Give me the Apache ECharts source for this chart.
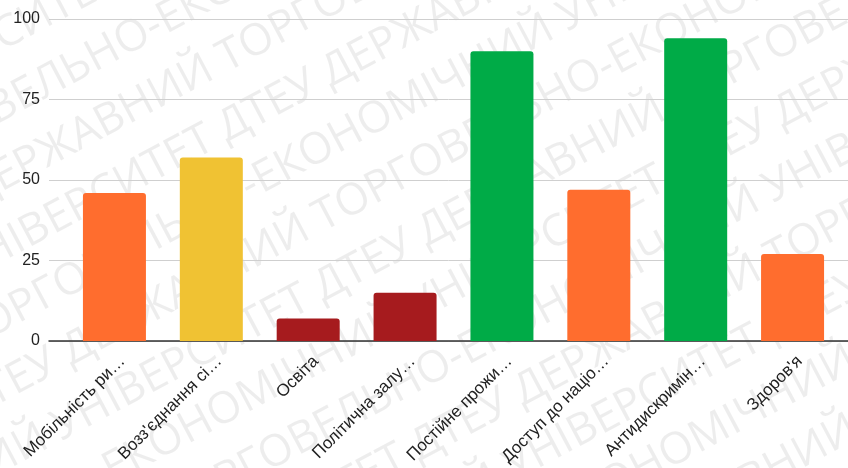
<!DOCTYPE html>
<html>
<head>
<meta charset="utf-8">
<script src="https://cdn.jsdelivr.net/npm/echarts@6/dist/echarts.min.js"></script>
<style>
html,body{margin:0;padding:0;background:#fff;}
#chart{width:848px;height:468px;}
</style>
</head>
<body>
<div id="chart"></div>
<script>
var categories = ["Мобільність ри…", "Возз'єднання сі…", "Освіта", "Політична залу…", "Постійне прожи…", "Доступ до націо…", "Антидискримін…", "Здоров'я"];
var values = [46, 57, 7, 15, 90, 47, 94, 27];
var barColors = ["#ff6d2e", "#f0c233", "#a61b1e", "#a61b1e", "#00ab47", "#ff6d2e", "#00ab47", "#ff6d2e"];
var yTicks = [0, 25, 50, 75, 100];
var watermarkText = "ДТЕУ ДЕРЖАВНИЙ ТОРГОВЕЛЬНО-ЕКОНОМІЧНИЙ УНІВЕРСИТЕТ ";

var chart = echarts.init(document.getElementById('chart'));
var font = '"Liberation Sans", Arial, sans-serif';

var wmChildren = [];
var line = watermarkText + watermarkText + watermarkText + watermarkText;
for (var i = -9; i <= 9; i++) {
  wmChildren.push({
    type: 'text',
    x: -1500 + ((i * 370) % 1100),
    y: i * 62,
    style: {
      text: line,
      font: '44px "Open Sans", sans-serif',
      fill: 'rgba(0,0,0,0.07)',
      textVerticalAlign: 'middle'
    }
  });
}

var option = {
  animation: false,
  backgroundColor: '#fff',
  grid: [
    {left: 49, right: 0, top: 19, bottom: 127},
    {left: 66, right: 7, top: 19, bottom: 127},
    {left: 74, right: 0, top: 19, bottom: 127}
  ],
  xAxis: [
    {gridIndex: 0, type: 'category', data: categories,
     axisLine: {show: true, lineStyle: {color: '#333', width: 1.5}},
     axisTick: {show: false}, axisLabel: {show: false}},
    {gridIndex: 1, type: 'category', data: categories, show: false},
    {gridIndex: 2, type: 'category', data: categories,
     axisLine: {show: false}, axisTick: {show: false},
     axisLabel: {show: true, rotate: 45, interval: 0, margin: 18,
       fontSize: 17, color: '#222', fontFamily: font}}
  ],
  yAxis: [
    {gridIndex: 0, type: 'value', min: yTicks[0], max: yTicks[yTicks.length - 1], interval: 25,
     axisLine: {show: false}, axisTick: {show: false},
     axisLabel: {fontSize: 16, color: '#222', margin: 9, fontFamily: font},
     splitLine: {lineStyle: {color: '#cfcfcf', width: 1}}},
    {gridIndex: 1, type: 'value', min: 0, max: 100, show: false},
    {gridIndex: 2, type: 'value', min: 0, max: 100, show: false}
  ],
  series: [{
    type: 'bar',
    xAxisIndex: 1, yAxisIndex: 1,
    barWidth: 63,
    data: values.map(function (v, i) {
      return {value: v, itemStyle: {color: barColors[i], borderRadius: [3, 3, 0, 0]}};
    })
  }],
  graphic: [{
    type: 'group',
    x: 424, y: 234,
    rotation: 28 * Math.PI / 180,
    z: 100,
    silent: true,
    children: wmChildren
  }]
};
chart.setOption(option);
</script>
</body>
</html>
